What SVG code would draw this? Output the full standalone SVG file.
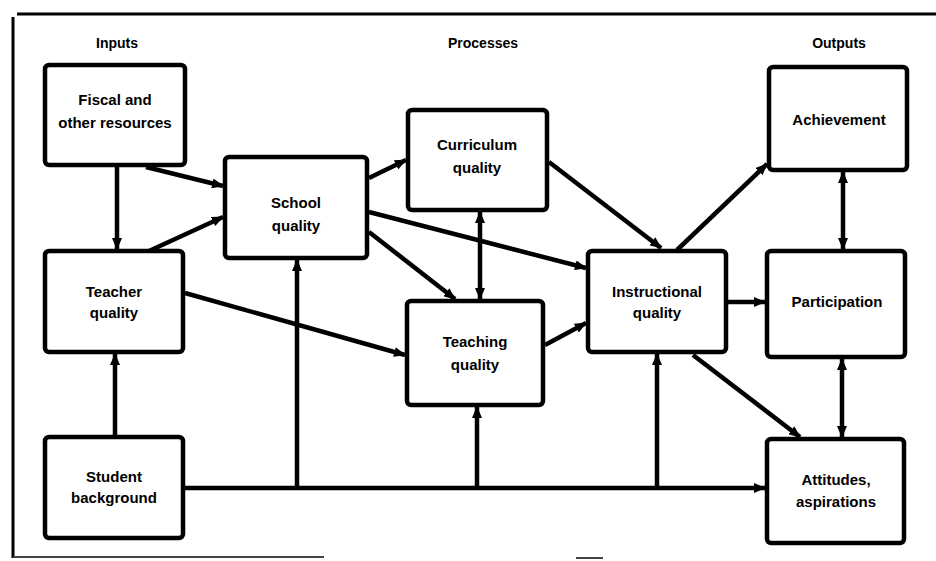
<svg xmlns="http://www.w3.org/2000/svg" width="936" height="561" viewBox="0 0 936 561">
<style>
.box{fill:#fff;stroke:#000;stroke-width:4.5}
.t{font-family:"Liberation Sans",Arial,sans-serif;font-weight:bold;font-size:15px;text-anchor:middle;fill:#000}
.h{font-family:"Liberation Sans",Arial,sans-serif;font-weight:bold;font-size:14px;text-anchor:middle;fill:#000}
.c{stroke:#000;stroke-width:4.5;fill:none}
.frame{stroke:#000;stroke-width:3;fill:none}
.base{stroke:#444;stroke-width:2;fill:none}
</style>
<defs>
<marker id="ah" markerUnits="userSpaceOnUse" markerWidth="12" markerHeight="10" refX="11" refY="5" orient="auto-start-reverse">
<path d="M0,0 L12,5 L0,10 z" fill="#000"/>
</marker>
</defs>
<g id="frame">
<path class="frame" d="M17,14 L936,14"/>
<path class="frame" d="M13,17 L13,558"/>
<path class="base" d="M13,557 L324,557"/>
<path class="base" d="M576,558 L603,558"/>
</g>
<g id="headers">
<text class="h" x="117" y="48">Inputs</text>
<text class="h" x="483" y="48">Processes</text>
<text class="h" x="839" y="48">Outputs</text>
</g>
<g id="connectors">
<line class="c" x1="117" y1="167" x2="117" y2="249" marker-end="url(#ah)"/>
<line class="c" x1="146" y1="167" x2="223" y2="186" marker-end="url(#ah)"/>
<line class="c" x1="149" y1="251" x2="223" y2="217" marker-end="url(#ah)"/>
<line class="c" x1="369" y1="178" x2="406" y2="160" marker-end="url(#ah)"/>
<line class="c" x1="369" y1="212" x2="586" y2="268" marker-end="url(#ah)"/>
<line class="c" x1="369" y1="232" x2="455" y2="299" marker-end="url(#ah)"/>
<line class="c" x1="480" y1="212" x2="480" y2="299" marker-start="url(#ah)" marker-end="url(#ah)"/>
<line class="c" x1="185" y1="293" x2="405" y2="355" marker-end="url(#ah)"/>
<line class="c" x1="549" y1="162" x2="661" y2="248" marker-end="url(#ah)"/>
<line class="c" x1="545" y1="345" x2="586" y2="323" marker-end="url(#ah)"/>
<line class="c" x1="677" y1="250" x2="767" y2="164" marker-end="url(#ah)"/>
<line class="c" x1="843" y1="172" x2="843" y2="249" marker-start="url(#ah)" marker-end="url(#ah)"/>
<line class="c" x1="728" y1="302" x2="765" y2="302" marker-end="url(#ah)"/>
<line class="c" x1="842" y1="359" x2="842" y2="437" marker-start="url(#ah)" marker-end="url(#ah)"/>
<line class="c" x1="693" y1="355" x2="800" y2="437" marker-end="url(#ah)"/>
<line class="c" x1="115" y1="435" x2="115" y2="354" marker-end="url(#ah)"/>
<line class="c" x1="185" y1="488" x2="765" y2="488" marker-end="url(#ah)"/>
<line class="c" x1="297" y1="488" x2="297" y2="260" marker-end="url(#ah)"/>
<line class="c" x1="477" y1="488" x2="477" y2="407" marker-end="url(#ah)"/>
<line class="c" x1="657" y1="488" x2="657" y2="354" marker-end="url(#ah)"/>
</g>
<g id="fiscal">
<rect class="box" x="45" y="65" width="140" height="100" rx="4"/>
<text class="t" x="115" y="105">Fiscal and</text>
<text class="t" x="115" y="128">other resources</text>
</g>
<g id="school">
<rect class="box" x="225" y="157" width="142" height="101" rx="4"/>
<text class="t" x="296" y="208">School</text>
<text class="t" x="296" y="231">quality</text>
</g>
<g id="curriculum">
<rect class="box" x="408" y="110" width="139" height="100" rx="4"/>
<text class="t" x="477" y="150">Curriculum</text>
<text class="t" x="477" y="173">quality</text>
</g>
<g id="achievement">
<rect class="box" x="769" y="67" width="138" height="103" rx="4"/>
<text class="t" x="839" y="125">Achievement</text>
</g>
<g id="teacher">
<rect class="box" x="45" y="251" width="138" height="101" rx="4"/>
<text class="t" x="114" y="297">Teacher</text>
<text class="t" x="114" y="318">quality</text>
</g>
<g id="teaching">
<rect class="box" x="407" y="301" width="136" height="104" rx="4"/>
<text class="t" x="475" y="347">Teaching</text>
<text class="t" x="475" y="370">quality</text>
</g>
<g id="instructional">
<rect class="box" x="588" y="251" width="138" height="101" rx="4"/>
<text class="t" x="657" y="297">Instructional</text>
<text class="t" x="657" y="318">quality</text>
</g>
<g id="participation">
<rect class="box" x="767" y="251" width="138" height="106" rx="4"/>
<text class="t" x="837" y="307">Participation</text>
</g>
<g id="student">
<rect class="box" x="45" y="437" width="138" height="101" rx="4"/>
<text class="t" x="114" y="482">Student</text>
<text class="t" x="114" y="503">background</text>
</g>
<g id="attitudes">
<rect class="box" x="767" y="439" width="137" height="104" rx="4"/>
<text class="t" x="836" y="485">Attitudes,</text>
<text class="t" x="836" y="507">aspirations</text>
</g>
</svg>
